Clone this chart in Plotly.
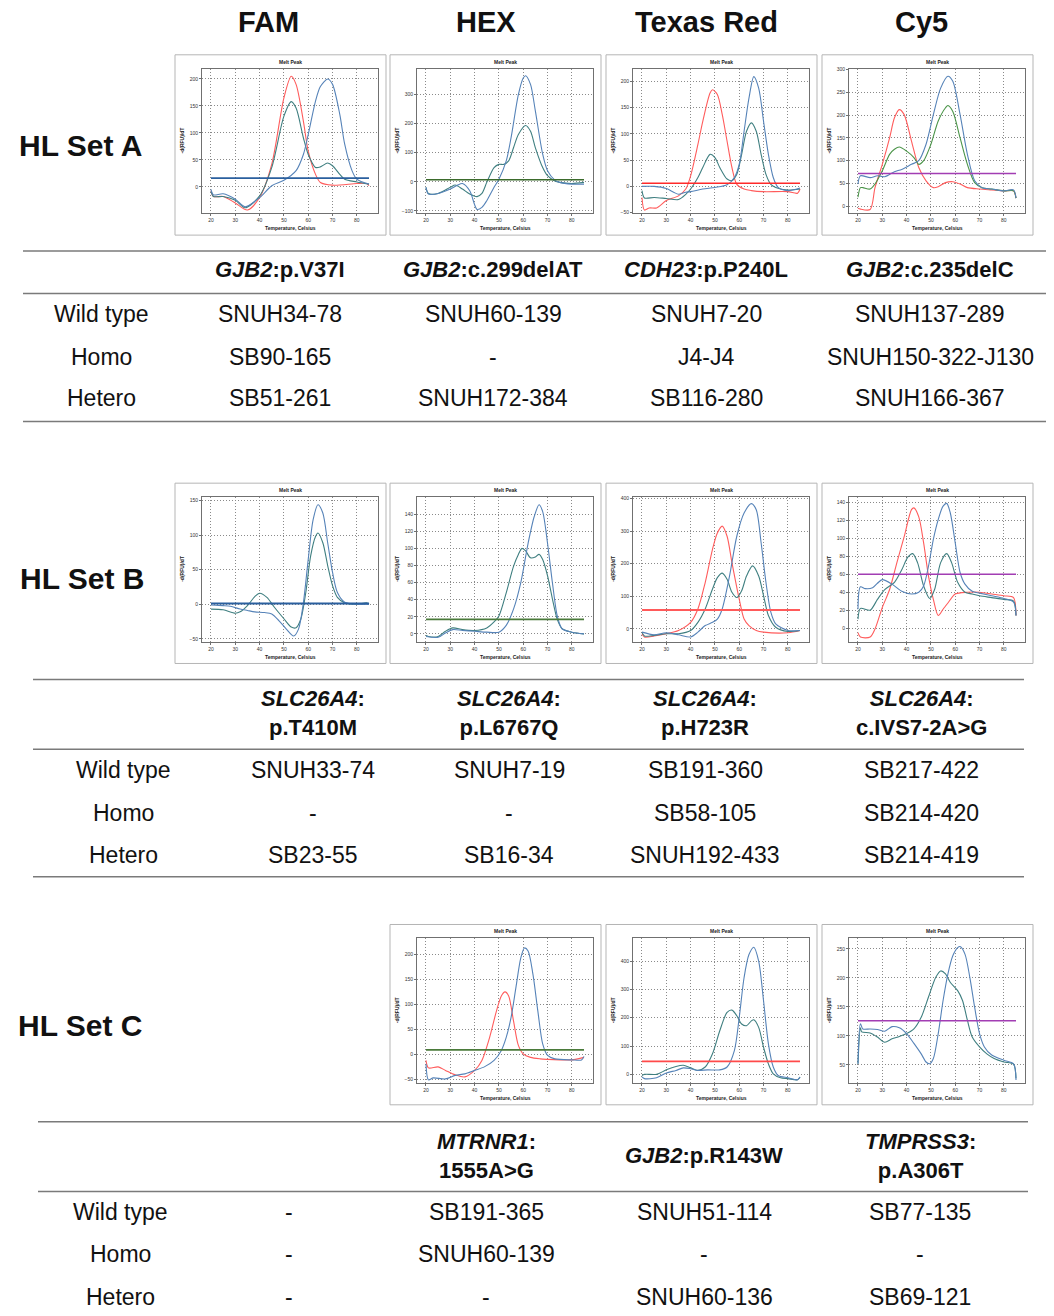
import plotly.graph_objects as go

W, H = 1054, 1316
FONT = "Liberation Sans, Arial, sans-serif"

# ---------------- data ----------------
channels = ["FAM", "HEX", "Texas Red", "Cy5"]
set_labels = ["HL Set A", "HL Set B", "HL Set C"]
row_labels = ["Wild type", "Homo", "Hetero"]

# Set A tables
a_headers = ["<i>GJB2</i>:p.V37I", "<i>GJB2</i>:c.299delAT", "<i>CDH23</i>:p.P240L", "<i>GJB2</i>:c.235delC"]
a_wild = ["SNUH34-78", "SNUH60-139", "SNUH7-20", "SNUH137-289"]
a_homo = ["SB90-165", "-", "J4-J4", "SNUH150-322-J130"]
a_het = ["SB51-261", "SNUH172-384", "SB116-280", "SNUH166-367"]
# Set B tables
b_headers = ["<i>SLC26A4</i>:<br>p.T410M", "<i>SLC26A4</i>:<br>p.L6767Q", "<i>SLC26A4</i>:<br>p.H723R", "<i>SLC26A4</i>:<br>c.IVS7-2A>G"]
b_wild = ["SNUH33-74", "SNUH7-19", "SB191-360", "SB217-422"]
b_homo = ["-", "-", "SB58-105", "SB214-420"]
b_het = ["SB23-55", "SB16-34", "SNUH192-433", "SB214-419"]
# Set C tables
c_headers = ["", "<i>MTRNR1</i>:<br>1555A>G", "<i>GJB2</i>:p.R143W", "<i>TMPRSS3</i>:<br>p.A306T"]
c_wild = ["-", "SB191-365", "SNUH51-114", "SB77-135"]
c_homo = ["-", "SNUH60-139", "-", "-"]
c_het = ["-", "-", "SNUH60-136", "SB69-121"]

# ---- melt peak curves (temperature, -d(RFU)/dT) ----
# Set A, FAM
a_fam_red_t = [20, 21, 25, 30, 35, 40, 45, 50, 53, 55, 58, 60, 63, 65, 70, 80, 84, 85]
a_fam_red_y = [-7, -18, -18, -30, -43, -20, 42, 165, 205, 190, 122, 66, 23, 8, 3, 6, 6, 2]
a_fam_teal_t = [20, 21, 25, 30, 34, 40, 45, 50, 53, 55, 58, 60, 63, 65, 68, 70, 73, 75, 80, 85]
a_fam_teal_y = [-8, -18, -18, -25, -39, -17, 36, 131, 158, 146, 91, 60, 36, 37, 44, 39, 23, 14, 9, 5]
a_fam_blue_t = [20, 21, 25, 30, 34, 40, 45, 50, 55, 58, 60, 63, 65, 68, 70, 73, 75, 78, 80, 85]
a_fam_blue_y = [-5, -15, -13, -23, -37, -20, 2, 12, 30, 60, 97, 159, 186, 200, 190, 134, 79, 30, 14, 5]
a_fam_thr = 16
# Set A, HEX
a_hex_blue_t = [20, 21, 25, 30, 33, 35, 38, 41, 43, 45, 48, 50, 53, 55, 58, 60, 61, 63, 65, 68, 70, 73, 75, 80, 85]
a_hex_blue_y = [-19, -42, -40, -25, -11, -6, -31, -95, -88, -65, -19, 9, 72, 152, 300, 357, 365, 335, 243, 95, 38, 6, -2, -8, -8]
a_hex_teal_t = [20, 21, 25, 30, 32, 35, 38, 41, 43, 45, 48, 50, 52, 54, 56, 58, 61, 63, 65, 68, 70, 73, 75, 80, 85]
a_hex_teal_y = [-19, -40, -40, -19, -11, -25, -42, -51, -40, -2, 49, 60, 60, 72, 117, 163, 194, 174, 117, 49, 21, 3, -2, -6, -2]
a_hex_thr = 7
# Set A, Texas Red
a_tr_red_t = [20, 21, 23, 26, 30, 35, 38, 40, 43, 45, 48, 49, 51, 53, 55, 57, 59, 62, 65, 70, 80, 84, 85]
a_tr_red_y = [-21, -45, -41, -41, -27, -18, -5, 20, 80, 124, 178, 184, 175, 137, 86, 36, 4, -5, -8, -10, -10, -13, -5]
a_tr_teal_t = [20, 21, 25, 30, 35, 38, 40, 43, 45, 48, 50, 52, 55, 57, 59, 61, 63, 65, 67, 69, 71, 73, 75, 80, 85]
a_tr_teal_y = [-8, -22, -21, -23, -25, -15, -5, 17, 36, 61, 55, 36, 14, 11, 23, 61, 105, 121, 105, 61, 23, 4, -2, -7, -5]
a_tr_blue_t = [20, 25, 30, 33, 35, 38, 40, 45, 50, 55, 58, 60, 62, 64, 66, 68, 70, 72, 74, 76, 80, 85]
a_tr_blue_y = [0, 0, -4, -11, -15, -11, -10, -5, -2, 3, 17, 42, 105, 168, 209, 187, 124, 61, 17, -2, -8, -3]
a_tr_thr = 6
# Set A, Cy5
a_cy5_red_t = [20, 21, 25, 27, 30, 33, 35, 37, 39, 42, 45, 48, 51, 53, 56, 59, 62, 65, 70, 75, 80, 84, 85]
a_cy5_red_y = [-4, -6, -7, 41, 92, 150, 194, 212, 201, 143, 85, 56, 41, 43, 52, 54, 49, 41, 38, 36, 34, 34, 18]
a_cy5_green_t = [20, 21, 22, 25, 27, 30, 33, 35, 37, 40, 43, 45, 47, 50, 53, 56, 57, 59, 62, 65, 68, 71, 75, 80, 84, 85]
a_cy5_green_y = [20, 41, 41, 38, 49, 78, 114, 125, 130, 121, 107, 92, 100, 136, 187, 216, 221, 208, 150, 92, 52, 41, 38, 34, 34, 18]
a_cy5_blue_t = [20, 21, 25, 28, 31, 35, 38, 42, 45, 48, 51, 54, 57, 59, 62, 65, 68, 71, 75, 80, 84, 85]
a_cy5_blue_y = [49, 67, 63, 67, 65, 76, 81, 92, 100, 136, 201, 259, 285, 274, 201, 114, 56, 41, 38, 34, 36, 18]
a_cy5_thr = 72

# Set B, FAM
b_fam_teal_t = [20, 25, 30, 32, 35, 38, 40, 43, 46, 50, 53, 55, 57, 59, 61, 63, 64, 66, 68, 70, 72, 75, 80, 84, 85]
b_fam_teal_y = [-7, -8, -13, -11, -2, 11, 16, 10, -4, -21, -33, -34, -21, 17, 70, 98, 103, 89, 56, 27, 10, 2, 0, 2, 0]
b_fam_blue_t = [20, 25, 28, 32, 35, 38, 42, 45, 48, 51, 54, 56, 58, 60, 62, 64, 66, 68, 70, 72, 75, 80, 85]
b_fam_blue_y = [-1, -2, -3, -7, -9, -11, -12, -14, -24, -36, -46, -36, 2, 65, 122, 144, 132, 89, 46, 17, 3, 0, 0]
b_fam_thr = 1
# Set B, HEX
b_hex_teal_t = [20, 21, 25, 28, 31, 35, 40, 45, 48, 50, 53, 56, 58, 59.5, 61, 63, 65, 66.5, 68, 70, 72, 74, 76, 80, 85]
b_hex_teal_y = [-2, -3, -3, 3, 7, 5, 4, 7, 14, 21, 48, 79, 93, 100, 97, 89, 90, 93, 87, 68, 41, 17, 6, 2, 0]
b_hex_blue_t = [20, 25, 28, 31, 35, 40, 45, 50, 53, 56, 59, 62, 64.5, 66.5, 68, 70, 72, 74, 76, 80, 85]
b_hex_blue_y = [-3, -4, 1, 5, 4, 3, 2, 2, 10, 29, 60, 106, 137, 151, 143, 106, 60, 21, 6, 2, 0]
b_hex_thr = 17
# Set B, Texas Red
b_tr_red_t = [20, 21, 25, 30, 35, 40, 43, 46, 49, 51, 53, 55, 57, 60, 62, 64, 67, 70, 80, 85]
b_tr_red_y = [-15, -25, -22, -15, -5, 20, 61, 142, 244, 294, 315, 284, 203, 91, 30, 10, -5, -10, -12, -5]
b_tr_teal_t = [20, 21, 25, 30, 35, 40, 43, 46, 49, 51, 53, 55, 57, 59, 61, 63, 65.5, 68, 70, 72, 75, 80, 85]
b_tr_teal_y = [-10, -22, -20, -15, -15, -5, 20, 61, 122, 157, 171, 152, 112, 96, 117, 162, 193, 162, 102, 41, 5, -8, -5]
b_tr_blue_t = [20, 25, 30, 35, 40, 43, 46, 49, 51, 53, 56, 59, 62, 65, 67, 69, 71, 73, 75, 80, 85]
b_tr_blue_y = [-10, -18, -12, -18, -25, -10, 10, 20, 30, 61, 162, 284, 355, 384, 365, 264, 142, 51, 15, -5, -5]
b_tr_thr = 58
# Set B, Cy5
b_cy5_red_t = [20, 21, 25, 27, 30, 33, 36, 39, 42, 43, 45, 47, 49, 51, 53, 55, 57, 60, 65, 70, 75, 80, 84, 85]
b_cy5_red_y = [-5, -10, -10, -1, 23, 43, 73, 102, 132, 134, 124, 95, 58, 32, 14, 21, 28, 38, 40, 40, 38, 36, 34, 14]
b_cy5_teal_t = [20, 21, 25, 28, 31, 35, 38, 40.5, 42.5, 44.5, 47, 49.5, 51.5, 54, 56.5, 58.5, 61, 64, 67, 70, 75, 80, 84, 85]
b_cy5_teal_y = [10, 22, 20, 32, 43, 51, 65, 79, 83, 73, 47, 33, 43, 73, 83, 73, 51, 40, 38, 36, 34, 32, 30, 14]
b_cy5_blue_t = [20, 21, 23, 26, 28, 30, 34, 38, 42, 45, 47, 49, 51, 53, 55, 56.5, 58, 60, 62, 64, 67, 70, 75, 80, 84, 85]
b_cy5_blue_y = [21, 46, 44, 45, 50, 54, 49, 41, 38, 40, 47, 69, 99, 121, 136, 139, 128, 95, 62, 49, 41, 39, 36, 33, 29, 14]
b_cy5_thr = 60

# Set C, HEX
c_hex_red_t = [20, 21, 25, 28, 32, 36, 40, 43, 46, 49, 51, 52.5, 54, 56, 58, 60, 63, 67, 70, 75, 80, 85]
c_hex_red_y = [-12, -27, -25, -32, -41, -45, -32, -12, 31, 87, 117, 125, 117, 67, 18, 1, -6, -9, -10, -11, -11, -6]
c_hex_blue_t = [20, 21, 23, 28, 32, 36, 40, 44, 48, 51, 53, 55, 57, 59, 60.5, 62, 64, 66, 68, 70, 73, 80, 84, 85]
c_hex_blue_y = [-19, -51, -47, -49, -42, -39, -32, -25, -12, 8, 34, 74, 134, 193, 213, 207, 160, 87, 21, -2, -9, -11, -11, -4]
c_hex_thr = 9
# Set C, Texas Red
c_tr_teal_t = [20, 21, 26, 30, 34, 37, 40, 43, 46, 49, 52, 55, 57, 59, 61, 63, 65, 66, 68, 70, 72, 74, 77, 80, 84, 85]
c_tr_teal_y = [-4, 0, 0, 16, 28, 32, 23, 14, 26, 73, 154, 219, 227, 207, 178, 172, 189, 193, 166, 96, 37, 2, -12, -15, -19, -9]
c_tr_blue_t = [20, 21, 26, 30, 34, 37, 40, 43, 47, 52, 55, 58, 60, 62, 64, 66, 68, 70, 72, 74, 76, 80, 84, 85]
c_tr_blue_y = [-9, -15, -12, 5, 14, 23, 20, 14, 16, 16, 26, 84, 201, 342, 423, 449, 400, 260, 108, 26, -4, -12, -19, -9]
c_tr_thr = 46
# Set C, Cy5
c_cy5_teal_t = [20, 21, 21.5, 25, 28, 31, 34, 37, 40, 43, 46, 49, 52, 54, 56, 58, 61, 63, 65, 67, 70, 73, 76, 80, 84, 85]
c_cy5_teal_y = [52, 114, 107, 105, 98, 89, 95, 99, 104, 112, 132, 167, 201, 212, 207, 192, 178, 161, 127, 98, 81, 69, 61, 55, 51, 27]
c_cy5_blue_t = [20, 21, 22, 25, 28, 31, 34, 37, 40, 43, 46, 48, 49.5, 51, 53, 55, 57, 59, 61, 62, 64, 66, 68, 70, 72, 75, 80, 84, 85]
c_cy5_blue_y = [52, 121, 112, 112, 111, 108, 116, 114, 104, 87, 69, 55, 52, 61, 104, 161, 207, 238, 252, 254, 241, 201, 149, 104, 81, 67, 58, 52, 24]
c_cy5_thr = 126

# ---------------- figure ----------------
RED = "#ff5c5c"
TEAL = "#3f7f80"
BLUE = "#5683b8"
GREEN = "#4a9448"

fig = go.Figure()
layout_axes = {}
annotations = []
shapes = []


def px(x):
    return x / W


def py(y):
    return 1 - y / H


def small(t, x, y, angle=0):
    annotations.append(dict(text=t, x=px(x), y=py(y), xref="paper", yref="paper",
                            showarrow=False, xanchor="center", yanchor="middle", textangle=angle,
                            font=dict(size=5, family=FONT, color="#222")))


def add_panel(idx, box_left, box_top, yrange, ytick, curves, thr, thr_color, thr_w=1.6):
    xa = "xaxis" if idx == 1 else f"xaxis{idx}"
    ya = "yaxis" if idx == 1 else f"yaxis{idx}"
    xr = "x" if idx == 1 else f"x{idx}"
    yr = "y" if idx == 1 else f"y{idx}"
    x0, x1 = px(box_left + 27), px(box_left + 203)
    y0, y1 = py(box_top + 159), py(box_top + 14)
    common = dict(showline=True, mirror=True, linecolor="#707070", linewidth=1,
                  showgrid=True, gridcolor="#8a8a8a", griddash="1px,2px", gridwidth=0.8,
                  zeroline=False, ticks="outside", ticklen=2, tickcolor="#707070",
                  tickfont=dict(size=5, color="#333", family=FONT), fixedrange=True)
    layout_axes[xa] = dict(domain=[x0, x1], range=[16.3, 88.7], anchor=yr,
                           tickvals=[20, 30, 40, 50, 60, 70, 80], **common)
    layout_axes[ya] = dict(domain=[y0, y1], range=yrange, anchor=xr,
                           tickvals=ytick, **common)
    for (t, v, c) in curves:
        fig.add_trace(go.Scatter(x=t, y=v, mode="lines", xaxis=xr, yaxis=yr,
                                 line=dict(color=c, width=1.1, shape="spline", smoothing=0.8),
                                 showlegend=False, hoverinfo="skip"))
    fig.add_trace(go.Scatter(x=[20, 85], y=[thr, thr], mode="lines", xaxis=xr, yaxis=yr,
                             line=dict(color=thr_color, width=thr_w),
                             showlegend=False, hoverinfo="skip"))
    shapes.append(dict(type="rect", xref="paper", yref="paper",
                       x0=px(box_left), x1=px(box_left + 211), y0=py(box_top + 181), y1=py(box_top),
                       line=dict(color="#b5b5b5", width=1), fillcolor="rgba(0,0,0,0)", layer="below"))
    small("<b>Melt Peak</b>", box_left + 115, box_top + 7)
    small("<b>Temperature, Celsius</b>", box_left + 115, box_top + 174)
    small("<b>-d(RFU)/dT</b>", box_left + 7, box_top + 86, -90)


col_left = [175, 390, 606, 822]
rowA, rowB, rowC = 52, 482, 925

add_panel(1, col_left[0], rowA, [-49, 219], [0, 50, 100, 150, 200],
          [(a_fam_red_t, a_fam_red_y, RED), (a_fam_teal_t, a_fam_teal_y, TEAL), (a_fam_blue_t, a_fam_blue_y, BLUE)],
          a_fam_thr, "#2a5f9e")
add_panel(2, col_left[1], rowA, [-108, 389], [-100, 0, 100, 200, 300],
          [(a_hex_teal_t, a_hex_teal_y, TEAL), (a_hex_blue_t, a_hex_blue_y, BLUE)],
          a_hex_thr, "#3b6b2c")
add_panel(3, col_left[2], rowA, [-51, 224], [-50, 0, 50, 100, 150, 200],
          [(a_tr_red_t, a_tr_red_y, RED), (a_tr_teal_t, a_tr_teal_y, TEAL), (a_tr_blue_t, a_tr_blue_y, BLUE)],
          a_tr_thr, "#ff2a2a")
add_panel(4, col_left[3], rowA, [-15, 301.5], [0, 50, 100, 150, 200, 250, 300],
          [(a_cy5_red_t, a_cy5_red_y, RED), (a_cy5_green_t, a_cy5_green_y, GREEN), (a_cy5_blue_t, a_cy5_blue_y, BLUE)],
          a_cy5_thr, "#a23db3")

add_panel(5, col_left[0], rowB, [-54, 155], [-50, 0, 50, 100, 150],
          [(b_fam_teal_t, b_fam_teal_y, TEAL), (b_fam_blue_t, b_fam_blue_y, BLUE)],
          b_fam_thr, "#2a5f9e", 2.0)
add_panel(6, col_left[1], rowB, [-9, 160], [0, 20, 40, 60, 80, 100, 120, 140],
          [(b_hex_teal_t, b_hex_teal_y, TEAL), (b_hex_blue_t, b_hex_blue_y, BLUE)],
          b_hex_thr, "#4a7a3a", 1.8)
add_panel(7, col_left[2], rowB, [-39, 404], [0, 100, 200, 300, 400],
          [(b_tr_red_t, b_tr_red_y, RED), (b_tr_teal_t, b_tr_teal_y, TEAL), (b_tr_blue_t, b_tr_blue_y, BLUE)],
          b_tr_thr, "#ff5a5a", 2.0)
add_panel(8, col_left[3], rowB, [-15, 146], [0, 20, 40, 60, 80, 100, 120, 140],
          [(b_cy5_red_t, b_cy5_red_y, RED), (b_cy5_teal_t, b_cy5_teal_y, TEAL), (b_cy5_blue_t, b_cy5_blue_y, BLUE)],
          b_cy5_thr, "#a23db3")

add_panel(9, col_left[1], rowC, [-57, 232], [-50, 0, 50, 100, 150, 200],
          [(c_hex_red_t, c_hex_red_y, RED), (c_hex_blue_t, c_hex_blue_y, BLUE)],
          c_hex_thr, "#4a7a3a", 1.8)
add_panel(10, col_left[2], rowC, [-30, 480], [0, 100, 200, 300, 400],
          [(c_tr_teal_t, c_tr_teal_y, TEAL), (c_tr_blue_t, c_tr_blue_y, BLUE)],
          c_tr_thr, "#ff4a4a", 1.8)
add_panel(11, col_left[3], rowC, [19, 268], [50, 100, 150, 200, 250],
          [(c_cy5_teal_t, c_cy5_teal_y, TEAL), (c_cy5_blue_t, c_cy5_blue_y, BLUE)],
          c_cy5_thr, "#a23db3")

DY = -2  # small vertical correction for text centring


def text(t, x, y, size, bold=False, color="#111"):
    s = f"<b>{t}</b>" if bold else t
    annotations.append(dict(text=s, x=px(x), y=py(y + DY), xref="paper", yref="paper",
                            showarrow=False, xanchor="center", yanchor="middle",
                            font=dict(size=size, family=FONT, color=color)))


def hline(y, x0, x1):
    shapes.append(dict(type="line", xref="paper", yref="paper", x0=px(x0), x1=px(x1),
                       y0=py(y), y1=py(y), line=dict(color="#7a7a7a", width=1.5)))


# channel headers
for name, cx in zip(channels, [268, 486, 706, 921]):
    text(name, cx, 21, 29, bold=True)

# set labels
text(set_labels[0], 80, 145, 30, bold=True)
text(set_labels[1], 82, 580, 30, bold=True)
text(set_labels[2], 80, 1028, 30, bold=True)

# table A
hline(249, 23, 1046)
hline(291.5, 23, 1046)
hline(420, 23, 1046)
colsA = [280, 493, 706, 930]
for h, cx in zip(a_headers, colsA):
    text(h, cx, 270, 22, bold=True)
for lab, yy, vals in zip(row_labels, [314, 357, 399], [a_wild, a_homo, a_het]):
    text(lab, 101, yy, 23)
    for v, cx in zip(vals, colsA):
        text(v, cx, yy, 23)

# table B
hline(679, 33, 1024)
hline(749, 33, 1024)
hline(877, 33, 1024)
colsB = [313, 509, 705, 921]
for h, cx in zip(b_headers, colsB):
    text(h, cx, 714.5, 22, bold=True)
for lab, yy, vals in zip(row_labels, [772, 815, 857], [b_wild, b_homo, b_het]):
    text(lab, 123, yy, 23)
    for v, cx in zip(vals, colsB):
        text(v, cx, yy, 23)

# table C
hline(1123, 38, 1028)
hline(1193, 38, 1028)
colsC = [289, 486, 704, 920]
for h, cx in zip(c_headers, colsC):
    if h:
        text(h, cx, 1159, 22, bold=True)
for lab, yy, vals in zip(row_labels, [1216, 1258, 1301], [c_wild, c_homo, c_het]):
    text(lab, 120, yy, 23)
    for v, cx in zip(vals, colsC):
        text(v, cx, yy, 23)

fig.update_layout(width=W, height=H, margin=dict(l=0, r=0, t=0, b=0),
                  paper_bgcolor="white", plot_bgcolor="white",
                  annotations=annotations, shapes=shapes, showlegend=False,
                  font=dict(family=FONT), **layout_axes)

fig.write_html("out.html", config={"displayModeBar": False},
               post_script="document.body.style.margin='0';document.body.style.padding='0';document.body.style.overflow='hidden';")
